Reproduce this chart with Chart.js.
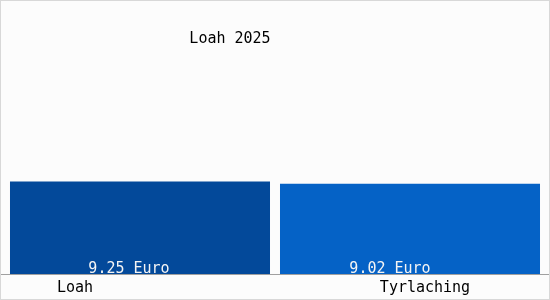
<!DOCTYPE html>
<html>
<head>
<meta charset="utf-8">
<script src="https://cdn.jsdelivr.net/npm/chart.js@4"></script>
<style>
  html, body { margin: 0; padding: 0; background: #fff; }
  #wrap { width: 548px; height: 298px; border: 1px solid #d8d8d8; background: #fcfcfc; }
</style>
</head>
<body>
<div id="wrap"><canvas id="chart" width="548" height="298"></canvas></div>
<script>
// ==========================================
// Daten
// ==========================================
const CATEGORIES = ['Loah', 'Tyrlaching'];
const VALUES = [9.25, 9.02];
const VALUE_LABELS = ['9.25 Euro', '9.02 Euro'];
const TITLE = 'Loah 2025';
const BAR_COLORS = ['#03499a', '#0562c6'];

const FONT = '15px "DejaVu Sans Mono", monospace';
// Versatz der Texte gegenüber der Balkenmitte
const VALUE_SHIFT = [-11, -20];
const CAT_SHIFT = [-65, 15];

// Beschriftungen selbst zeichnen
const labelPlugin = {
  id: 'labels',
  afterDatasetsDraw(chart) {
    const { ctx, chartArea } = chart;
    const meta = chart.getDatasetMeta(0);
    ctx.save();
    // Grundlinie
    ctx.strokeStyle = '#a0a0a0';
    ctx.lineWidth = 1;
    ctx.beginPath();
    ctx.moveTo(0, chartArea.bottom + 0.5);
    ctx.lineTo(chart.width, chartArea.bottom + 0.5);
    ctx.stroke();

    ctx.font = FONT;
    // Titel
    ctx.fillStyle = '#000';
    ctx.textAlign = 'center';
    ctx.textBaseline = 'middle';
    ctx.fillText(TITLE, 229, 38);

    meta.data.forEach((bar, i) => {
      // Wert im Balken
      ctx.fillStyle = '#f4f4f4';
      ctx.textBaseline = 'alphabetic';
      ctx.fillText(VALUE_LABELS[i], bar.x + VALUE_SHIFT[i], chartArea.bottom - 1);
      // Kategorie
      ctx.fillStyle = '#000';
      ctx.textBaseline = 'middle';
      ctx.fillText(CATEGORIES[i], bar.x + CAT_SHIFT[i], chartArea.bottom + 14);
    });
    ctx.restore();
  }
};

new Chart(document.getElementById('chart'), {
  type: 'bar',
  data: {
    labels: CATEGORIES,
    datasets: [{
      data: VALUES,
      backgroundColor: BAR_COLORS,
      borderWidth: 0,
      barPercentage: 0.963,
      categoryPercentage: 1
    }]
  },
  options: {
    responsive: false,
    animation: false,
    layout: { padding: { top: 13, left: 4, right: 4, bottom: 25 } },
    plugins: {
      legend: { display: false },
      title: { display: false },
      tooltip: { enabled: false }
    },
    scales: {
      x: { display: false },
      y: { display: false, min: 0, max: 26 }
    }
  },
  plugins: [labelPlugin]
});
</script>
</body>
</html>
